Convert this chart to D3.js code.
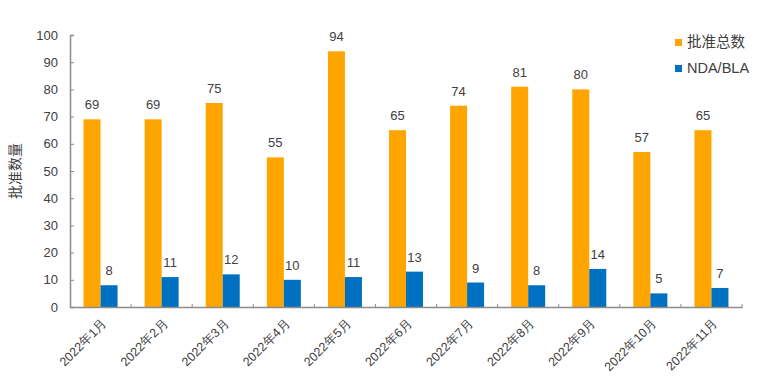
<!DOCTYPE html>
<html>
<head>
<meta charset="utf-8">
<script src="https://cdn.jsdelivr.net/npm/d3@7"></script>
<style>
  body { margin: 0; background: #fff; }
  svg { font-family: "Liberation Sans", "Noto Sans CJK SC", sans-serif; }
</style>
</head>
<body>
<svg id="chart" width="761" height="385"></svg>
<script>
const months = ["2022年1月", "2022年2月", "2022年3月", "2022年4月", "2022年5月", "2022年6月",
  "2022年7月", "2022年8月", "2022年9月", "2022年10月", "2022年11月"];
const totalApprovals = [69, 69, 75, 55, 94, 65, 74, 81, 80, 57, 65];
const ndaBla = [8, 11, 12, 10, 11, 13, 9, 8, 14, 5, 7];
const seriesNames = ["批准总数", "NDA/BLA"];
const colors = ["#FFA500", "#0070C0"];

const svg = d3.select("#chart");
const margin = { top: 35, right: 19, bottom: 78, left: 70 };
const w = 761 - margin.left - margin.right;
const h = 385 - margin.top - margin.bottom;
const g = svg.append("g").attr("transform", `translate(${margin.left},${margin.top})`);

// --- scales ---
const x = d3.scaleBand().domain(months).range([0, w]);
const sub = d3.scaleBand().domain(seriesNames).range([x.bandwidth() / 2 - 17, x.bandwidth() / 2 + 17]);
const y = d3.scaleLinear().domain([0, 100]).range([h, 0]);

const axisColor = "#8c8c8c";
const textColor = "#404040";

// --- y axis ---
const yAxis = g.append("g")
  .call(d3.axisLeft(y).tickValues(d3.range(0, 101, 10)).tickSize(-4).tickPadding(12));
yAxis.select(".domain").attr("stroke", axisColor).attr("stroke-width", 1.5);
yAxis.selectAll(".tick line").attr("stroke", axisColor);
yAxis.selectAll("text").attr("fill", textColor).style("font-size", "13px");

// --- bars ---
const data = months.map((m, i) => ({ m, vals: [totalApprovals[i], ndaBla[i]] }));
const groups = g.selectAll(".grp").data(data).join("g")
  .attr("transform", d => `translate(${x(d.m)},0)`);

groups.selectAll("rect")
  .data(d => d.vals.map((v, k) => ({ k, v })))
  .join("rect")
  .attr("x", d => sub(seriesNames[d.k]))
  .attr("width", sub.bandwidth())
  .attr("y", d => y(d.v))
  .attr("height", d => h - y(d.v))
  .attr("fill", d => colors[d.k]);

groups.selectAll("text.val")
  .data(d => d.vals.map((v, k) => ({ k, v })))
  .join("text")
  .attr("class", "val")
  .attr("x", d => sub(seriesNames[d.k]) + sub.bandwidth() / 2)
  .attr("y", d => y(d.v) - 10)
  .attr("text-anchor", "middle")
  .attr("fill", textColor)
  .style("font-size", "13px")
  .text(d => d.v);

// --- x axis ---
const xAxis = g.append("g").attr("transform", `translate(0,${h})`)
  .call(d3.axisBottom(x).tickSize(0).tickPadding(0));
xAxis.select(".domain").attr("stroke", axisColor).attr("stroke-width", 1.5);
xAxis.selectAll(".tick line").remove();
xAxis.selectAll(".tick text")
  .attr("fill", textColor)
  .style("font-size", "12.5px")
  .attr("text-anchor", "end")
  .attr("dy", "0.35em")
  .attr("transform", "translate(4,14) rotate(-45)");

// separator ticks between categories (pointing up)
g.selectAll(".sep").data(d3.range(1, months.length + 1)).join("line")
  .attr("x1", i => i * x.step()).attr("x2", i => i * x.step())
  .attr("y1", h).attr("y2", h - 3)
  .attr("stroke", axisColor);

// --- y title ---
svg.append("text")
  .attr("transform", `translate(20,${margin.top + h / 2}) rotate(-90)`)
  .attr("text-anchor", "middle")
  .attr("fill", textColor)
  .style("font-size", "14px")
  .text("批准数量");

// --- legend ---
const legend = svg.append("g").attr("transform", "translate(675,39)");
seriesNames.forEach((s, i) => {
  const row = legend.append("g").attr("transform", `translate(0,${i * 26})`);
  row.append("rect").attr("width", 7).attr("height", 7).attr("fill", colors[i]);
  row.append("text").attr("x", 12).attr("y", 8).attr("fill", textColor)
    .style("font-size", "14.5px").text(s);
});
</script>
</body>
</html>
